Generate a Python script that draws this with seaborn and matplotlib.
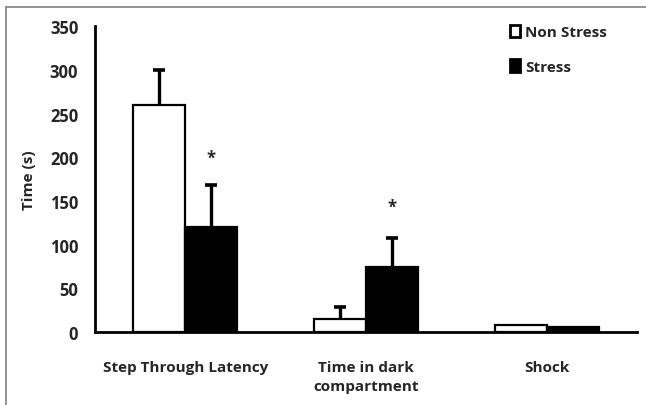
import numpy as np
import pandas as pd
import matplotlib
matplotlib.use("Agg")
import matplotlib.pyplot as plt
import seaborn as sns
from matplotlib.lines import Line2D
from matplotlib.ticker import FixedLocator

# données
categories = ["Step Through Latency", "Time in dark\ncompartment", "Shock"]
groups = ["Non Stress", "Stress"]
non_stress = [260, 15, 8]
non_stress_err = [40, 13, 0]
stress = [120, 74, 6]
stress_err = [48, 33, 0]
sig_y = [200, 143, None]   # hauteur des astérisques (Stress)

df = pd.DataFrame({
    "cat": categories * 2,
    "group": [groups[0]] * 3 + [groups[1]] * 3,
    "val": non_stress + stress,
    "err": non_stress_err + stress_err,
})

sns.set_style("white")
plt.rcParams["font.family"] = ["Open Sans", "DejaVu Sans"]
plt.rcParams["font.weight"] = "bold"

fig = plt.figure(figsize=(6.46, 4.06), dpi=100)
ax = fig.add_axes([0.147, 0.180, 0.839, 0.753])

sns.barplot(data=df, x="cat", y="val", hue="group", order=categories,
            hue_order=groups, palette=["white", "black"], width=0.575,
            edgecolor="black", linewidth=1.6, errorbar=None, ax=ax)

# barres d'erreur (vers le haut seulement)
for cont, errs in zip(ax.containers, [non_stress_err, stress_err]):
    xs = [p.get_x() + p.get_width() / 2 for p in cont.patches]
    ys = [p.get_height() for p in cont.patches]
    xs_e = [x for x, e in zip(xs, errs) if e > 0]
    ys_e = [y for y, e in zip(ys, errs) if e > 0]
    es = [e for e in errs if e > 0]
    eb = ax.errorbar(xs_e, ys_e, yerr=[np.zeros(len(es)), es], fmt="none",
                     ecolor="black", elinewidth=2.4, capsize=4, capthick=2.6, zorder=1)
    eb[1][0].set_visible(False)   # pas de trait en bas

# astérisques
for p, s in zip(ax.containers[1].patches, sig_y):
    if s is not None:
        ax.text(p.get_x() + p.get_width() / 2, s, "*", ha="center", va="center",
                fontsize=12, fontweight="bold")

ax.set_xlim(-0.5, 2.5)
ax.set_ylim(0, 350)
ax.set_yticks(range(0, 351, 50))
ax.set_xlabel("")
ax.set_ylabel("Time (s)", fontsize=11, fontweight="bold", labelpad=10)
ax.xaxis.set_minor_locator(FixedLocator([-0.5, 0.5, 1.5, 2.5]))
ax.tick_params(axis="x", which="major", length=0, pad=20, labelsize=11)
ax.tick_params(axis="x", which="minor", length=6, width=2, direction="out", color="black")
ax.tick_params(axis="y", length=5, width=2, direction="out", labelsize=12, pad=7)
for lab in ax.get_xticklabels():
    lab.set_fontweight("bold")
    lab.set_linespacing(1.45)
for lab in ax.get_yticklabels():
    lab.set_fontweight("bold")

sns.despine(ax=ax)
ax.spines["left"].set_linewidth(2)
ax.spines["bottom"].set_linewidth(2)
ax.spines["left"].set_color("black")
ax.spines["bottom"].set_color("black")

leg = ax.legend(loc="upper left", bbox_to_anchor=(0.74, 1.05), frameon=False,
                handlelength=0.7, handleheight=0.9, handletextpad=0.3,
                labelspacing=1.3, fontsize=11)
for h in leg.legend_handles:
    h.set_edgecolor("black")
    h.set_linewidth(2)
for t in leg.get_texts():
    t.set_fontweight("bold")

# bordure grise (haut et gauche)
fig.add_artist(Line2D([6 / 646, 1], [1 - 8 / 406, 1 - 8 / 406], color="gray", lw=1.2,
                      transform=fig.transFigure))
fig.add_artist(Line2D([6 / 646, 6 / 646], [0, 1 - 8 / 406], color="gray", lw=1.2,
                      transform=fig.transFigure))

fig.savefig("out.png", dpi=100)
